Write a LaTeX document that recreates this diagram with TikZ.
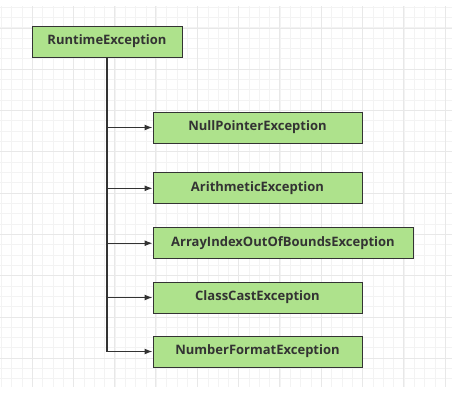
\documentclass[tikz,border=0pt]{standalone}
\usepackage{fontspec}
\setmainfont{Open Sans}
\usetikzlibrary{arrows.meta}
\definecolor{boxgreen}{RGB}{174,226,140}
\definecolor{linegrey}{RGB}{51,51,51}
\definecolor{gridminor}{RGB}{243,243,243}
\definecolor{gridmajor}{RGB}{232,232,232}
\newcommand{\exfont}{\fontsize{13pt}{15pt}\selectfont\bfseries}
\begin{document}
\begin{tikzpicture}[x=1pt,y=-1pt]
	\tikzstyle{ex} = [draw=linegrey, fill=boxgreen, line width=1pt, shape=rectangle, anchor=center, minimum height=31pt, text=linegrey, font=\exfont]
	\tikzstyle{conn} = [draw=linegrey, line width=1.1pt, -{Latex[length=8pt,width=6pt]}]
  % Hintergrund
  \useasboundingbox (0,0) rectangle (452,400);
  \foreach \i in {0,...,43} {
    \draw[gridminor, line width=0.8pt] (1.3+10.33*\i,6) -- (1.3+10.33*\i,387);
  }
  \foreach \j in {0,...,36} {
    \draw[gridminor, line width=0.8pt] (0,7+10.33*\j) -- (452,7+10.33*\j);
  }
  \foreach \i in {0,...,10} {
    \draw[gridmajor, line width=1pt] (32+41.33*\i,6) -- (32+41.33*\i,387);
  }
  \foreach \j in {0,...,8} {
    \draw[gridmajor, line width=1pt] (0,28+41.33*\j) -- (452,28+41.33*\j);
  }

  % Klassen
  \node[ex, minimum width=150pt] (rt) at (107,41.5) {RuntimeException};
  \node[ex, minimum width=209pt] (npe) at (257.5,127.5) {NullPointerException};
  \node[ex, minimum width=209pt] (ae) at (257.5,188.3) {ArithmeticException};
  \node[ex, minimum width=260pt] (aioobe) at (283,243.2) {ArrayIndexOutOfBoundsException};
  \node[ex, minimum width=209pt] (cce) at (257.5,297.5) {ClassCastException};
  \node[ex, minimum width=209pt] (nfe) at (257.5,351.5) {NumberFormatException};

  % Vererbung
  \draw[conn] (rt.south) |- (npe.west);
  \draw[conn] (rt.south) |- (ae.west);
  \draw[conn] (rt.south) |- (aioobe.west);
  \draw[conn] (rt.south) |- (cce.west);
  \draw[conn] (rt.south) |- (nfe.west);
\end{tikzpicture}
\end{document}
